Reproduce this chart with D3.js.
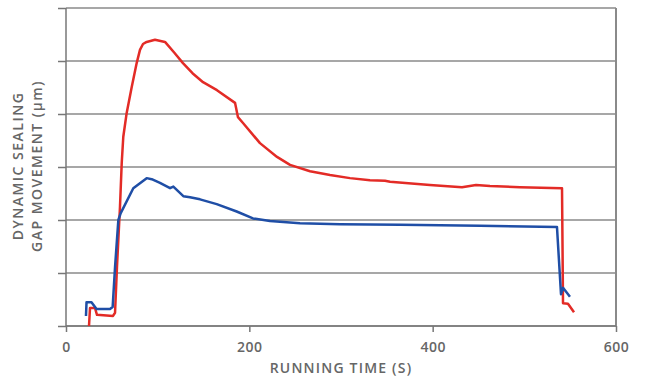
<!DOCTYPE html>
<html>
<head>
<meta charset="utf-8">
<script src="https://cdn.jsdelivr.net/npm/d3@7"></script>
<style>
  body { margin: 0; background: #fff; }
  text { font-family: "Open Sans", "Noto Sans", sans-serif; }
</style>
</head>
<body>
<script>
// data (time in s, gap in grid units)
var redTime = [25.1, 26.2, 31.6, 33.8, 51.3, 53.5, 55.6, 58.9, 60.8, 62.5, 66.2, 71.7, 77.1, 80.7, 84, 88, 97.1, 108, 118, 127.6, 138, 149.5, 164.7, 184.4, 187.6, 193.1, 211.6, 230.2, 244.4, 266.2, 288, 309.8, 331.6, 348, 353.5, 397, 432, 447.3, 462.5, 495.3, 541.1, 542.2, 547.6, 554.2];
var redGap  = [0, 3.4, 3.4, 2.1, 1.9, 2.5, 11.1, 22.5, 30.8, 35.7, 40.2, 45.1, 49.6, 52.1, 53.2, 53.6, 54.0, 53.6, 51.6, 49.6, 47.7, 46.0, 44.5, 42.1, 39.4, 38.3, 34.5, 31.9, 30.4, 29.2, 28.5, 27.9, 27.5, 27.4, 27.2, 26.6, 26.2, 26.6, 26.4, 26.2, 26.0, 4.3, 4.2, 2.6];

var blueTime = [21.8, 22.4, 27.8, 33.3, 48, 50.9, 53.5, 57.1, 59.7, 73.4, 88, 93.5, 102.5, 113.5, 117.1, 128, 135.3, 146.2, 164.4, 186.2, 204, 222.5, 255.3, 299, 364.4, 451.6, 535.6, 540, 542.2, 549.8];
var blueGap  = [1.9, 4.5, 4.5, 3.2, 3.2, 3.6, 11.1, 20, 21.3, 26, 27.9, 27.7, 27, 26, 26.3, 24.5, 24.3, 23.9, 23, 21.6, 20.3, 19.8, 19.4, 19.2, 19.1, 18.9, 18.7, 6, 7.2, 5.5];

var xTicks = [0, 200, 400, 600];
var yTicks = [0, 10, 20, 30, 40, 50, 60];

var width = 646, height = 380;
var margin = { top: 8, right: 30, bottom: 54, left: 66 };
var chartWidth = width - margin.left - margin.right,
    chartHeight = height - margin.top - margin.bottom;

var svg = d3.select('body').append('svg')
    .attr('width', width)
    .attr('height', height);

var xScale = d3.scaleLinear().domain([0, 600]).range([0, chartWidth]);
var yScale = d3.scaleLinear().domain([0, 60]).range([chartHeight, 0]);

var g = svg.append('g').attr('transform', 'translate(' + margin.left + ',' + margin.top + ')');

// gridlines
g.selectAll('.grid').data(yTicks).enter()
    .append('line')
    .attr('x1', 0).attr('x2', chartWidth)
    .attr('y1', function(d) { return yScale(d); })
    .attr('y2', function(d) { return yScale(d); })
    .attr('stroke', '#8a8a8a')
    .attr('stroke-width', 1.5);

// right border
g.append('line')
    .attr('x1', chartWidth).attr('x2', chartWidth)
    .attr('y1', 0).attr('y2', chartHeight)
    .attr('stroke', '#8a8a8a').attr('stroke-width', 2);

// y axis: ticks only
var yAxis = d3.axisLeft(yScale).tickValues(yTicks).tickSize(8).tickFormat('');
var yg = g.append('g').call(yAxis);
yg.select('.domain').attr('stroke', '#777').attr('stroke-width', 1.5).attr('d', 'M0,' + chartHeight + 'V0');
yg.selectAll('.tick line').attr('stroke', '#777').attr('stroke-width', 1.5);

// x axis
var xAxis = d3.axisBottom(xScale).tickValues(xTicks).tickSize(6).tickPadding(10);
var xg = g.append('g').attr('transform', 'translate(0,' + chartHeight + ')').call(xAxis);
xg.select('.domain').attr('stroke', '#777').attr('stroke-width', 1.5).attr('d', 'M0,0H' + chartWidth);
xg.selectAll('.tick line').attr('stroke', '#777').attr('stroke-width', 1.5);
xg.selectAll('.tick text')
    .attr('fill', '#666')
    .style('font-size', '14px')
    .style('font-weight', '600')
    .style('letter-spacing', '0.5px');

// lines
var line = d3.line()
    .x(function(d) { return xScale(d[0]); })
    .y(function(d) { return yScale(d[1]); });

var redData = d3.zip(redTime, redGap);
var blueData = d3.zip(blueTime, blueGap);

g.append('path')
    .attr('fill', 'none')
    .attr('stroke', '#e32b26')
    .attr('stroke-width', 2.5)
    .attr('stroke-linejoin', 'round')
    .attr('d', line(redData));

g.append('path')
    .attr('fill', 'none')
    .attr('stroke', '#1f4ea6')
    .attr('stroke-width', 2.5)
    .attr('stroke-linejoin', 'round')
    .attr('d', line(blueData));

// axis titles
svg.append('text')
    .attr('x', margin.left + xScale(300))
    .attr('y', 373)
    .attr('text-anchor', 'middle')
    .attr('fill', '#666')
    .style('font-size', '14px')
    .style('font-weight', '600')
    .style('letter-spacing', '1.2px')
    .text('RUNNING TIME (S)');

var yTitle = svg.append('text')
    .attr('transform', 'translate(23,166) rotate(-90)')
    .attr('text-anchor', 'middle')
    .attr('fill', '#666')
    .style('font-size', '14px')
    .style('font-weight', '600')
    .style('letter-spacing', '1.5px');
yTitle.append('tspan').attr('x', 0).attr('y', 0).text('DYNAMIC SEALING');
yTitle.append('tspan').attr('x', 0).attr('y', 19).text('GAP MOVEMENT (µm)');
</script>
</body>
</html>
